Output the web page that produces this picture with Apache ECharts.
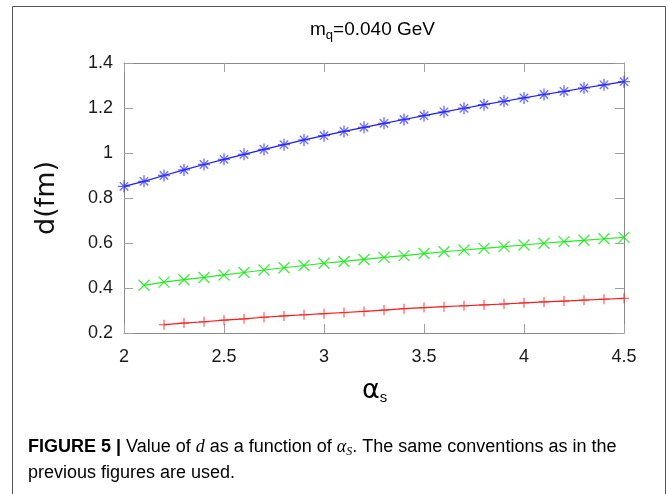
<!DOCTYPE html>
<html>
<head>
<meta charset="utf-8">
<script src="https://cdn.jsdelivr.net/npm/echarts@6/dist/echarts.min.js"></script>
<style>
html,body{margin:0;padding:0;background:#fff;}
#chart{width:668px;height:494px;}
</style>
</head>
<body>
<div id="chart"></div>
<script>
// ---- data ----
const alphaBlue = [2.0,2.1,2.2,2.3,2.4,2.5,2.6,2.7,2.8,2.9,3.0,3.1,3.2,3.3,3.4,3.5,3.6,3.7,3.8,3.9,4.0,4.1,4.2,4.3,4.4,4.5];
const dBlue = [0.852,0.874,0.900,0.925,0.949,0.972,0.994,1.016,1.037,1.058,1.077,1.096,1.114,1.132,1.149,1.166,1.183,1.199,1.215,1.230,1.245,1.260,1.274,1.289,1.303,1.317];
const alphaGreen = [2.1,2.2,2.3,2.4,2.5,2.6,2.7,2.8,2.9,3.0,3.1,3.2,3.3,3.4,3.5,3.6,3.7,3.8,3.9,4.0,4.1,4.2,4.3,4.4,4.5];
const dGreen = [0.412,0.426,0.437,0.447,0.458,0.469,0.480,0.490,0.500,0.510,0.518,0.527,0.536,0.544,0.553,0.561,0.569,0.576,0.584,0.591,0.599,0.606,0.612,0.619,0.625];
const alphaRed = [2.2,2.3,2.4,2.5,2.6,2.7,2.8,2.9,3.0,3.1,3.2,3.3,3.4,3.5,3.6,3.7,3.8,3.9,4.0,4.1,4.2,4.3,4.4,4.5];
const dRed = [0.237,0.244,0.250,0.257,0.263,0.270,0.276,0.281,0.286,0.291,0.296,0.302,0.308,0.313,0.317,0.321,0.325,0.329,0.334,0.338,0.342,0.346,0.350,0.354];
const xTicks = {min: 2, max: 4.5, step: 0.5};
const yTicks = {min: 0.2, max: 1.4, step: 0.2};
const titleText = {base: 'm', sub: 'q', rest: '=0.040 GeV'};
const yName = 'd(fm)';
const xName = {base: 'α', sub: 's'};

function pairs(xs, ys){ return xs.map((x,i)=>[x, ys[i]]); }

const chart = echarts.init(document.getElementById('chart'), null, {renderer:'canvas'});
const axisGray = '#8a8a8a';
const tickFont = {fontFamily:'Liberation Sans', fontSize:18, color:'#1a1a1a'};

function makeX(pos, show){
  return {type:'value', position:pos, min:xTicks.min, max:xTicks.max, interval:xTicks.step,
    axisLine:{show:true, onZero:false, lineStyle:{color:axisGray, width:1}},
    axisTick:{show:true, inside:true, length:9, lineStyle:{color:'#a0a0a0', width:1}},
    axisLabel:Object.assign({show:show, margin:15}, tickFont),
    splitLine:{show:false}};
}
function makeY(pos, show){
  return {type:'value', position:pos, min:yTicks.min, max:yTicks.max, interval:yTicks.step,
    axisLine:{show:true, onZero:false, lineStyle:{color:axisGray, width:1}},
    axisTick:{show:true, inside:true, length:9, lineStyle:{color:'#a0a0a0', width:1}},
    axisLabel:Object.assign({show:show, margin:11, formatter:v=>String(+v.toFixed(1))}, tickFont),
    splitLine:{show:false}};
}

const star = 'path://M5,0L5,10M0,5L10,5M1.5,1.5L8.5,8.5M8.5,1.5L1.5,8.5';
const cross = 'path://M0,0L10,10M10,0L0,10';
const plus = 'path://M5,0L5,10M0,5L10,5';

function series(xs, ys, color, mcolor, sym, size){
  return {type:'line', data:pairs(xs,ys), xAxisIndex:0, yAxisIndex:0,
    lineStyle:{color:color, width:1.2}, symbol:sym, symbolSize:size,
    itemStyle:{color:'none', borderColor:mcolor, borderWidth:1.3},
    emphasis:{disabled:true}, clip:false};
}

chart.setOption({
  animation:false,
  grid:{left:124, top:63, width:500, height:270, containLabel:false},
  xAxis:[makeX('bottom', true), makeX('top', false)],
  yAxis:[makeY('left', true), makeY('right', false)],
  series:[
    series(alphaBlue, dBlue, '#1a1aff', 'rgba(40,40,255,0.7)', star, 12),
    series(alphaGreen, dGreen, '#22ee22', 'rgba(20,230,20,0.8)', cross, 11),
    series(alphaRed, dRed, '#ff1a1a', 'rgba(255,40,40,0.7)', plus, 10)
  ],
  graphic:[
    {type:'rect', shape:{x:12.5, y:6.5, width:653, height:500}, style:{fill:'none', stroke:'#555', lineWidth:1}, silent:true},
    {type:'text', x:310, y:18, style:{
      text:'{a|'+titleText.base+'}{b|'+titleText.sub+'}{a|'+titleText.rest+'}',
      rich:{a:{fontFamily:'Liberation Sans', fontSize:19, color:'#111', lineHeight:24},
            b:{fontFamily:'Liberation Sans', fontSize:13, color:'#111', lineHeight:24, padding:[10,0,0,0]}}}},
    {type:'text', x:47, y:198, rotation:Math.PI/2, style:{
      text:yName, fontFamily:'DejaVu Sans', fontSize:27, fill:'#111', align:'center', verticalAlign:'middle'}},
    {type:'text', x:362, y:376, style:{
      text:'{a|'+xName.base+'}{b|'+xName.sub+'}',
      rich:{a:{fontFamily:'DejaVu Sans', fontSize:27, color:'#111', lineHeight:30},
            b:{fontFamily:'Liberation Sans', fontSize:15, color:'#111', lineHeight:30, padding:[14,0,0,0]}}}},
    {type:'text', x:28, y:434, style:{
      text:'{b|FIGURE 5 |}{n| Value of }{i|d}{n| as a function of }{i|α}{s|S}{n|. The same conventions as in the}\n{n|previous figures are used.}',
      rich:{
        b:{fontFamily:'Liberation Sans', fontWeight:'bold', fontSize:18, color:'#333', lineHeight:26},
        n:{fontFamily:'Liberation Sans', fontSize:18, color:'#444', lineHeight:26},
        i:{fontFamily:'Liberation Serif', fontStyle:'italic', fontSize:18, color:'#444', lineHeight:26},
        s:{fontFamily:'Liberation Serif', fontStyle:'italic', fontSize:12, color:'#444', lineHeight:26, padding:[9,0,0,0]}
      }}}
  ]
});
</script>
</body>
</html>
